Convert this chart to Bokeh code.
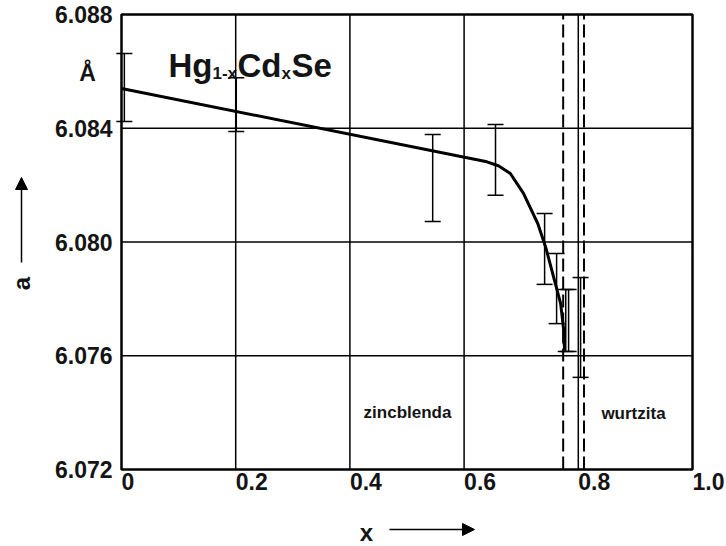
import math
from bokeh.plotting import figure
from bokeh.models import ColumnDataSource, Whisker, TeeHead, Arrow, NormalHead
from bokeh.core.properties import value
from bokeh.embed import file_html
from bokeh.resources import INLINE

# lattice parameter a (Å) of Hg1-xCdxSe versus composition x
curve_x = [0.0, 0.640, 0.660, 0.681, 0.704, 0.729, 0.743, 0.757, 0.769, 0.774, 0.776]
curve_a = [6.08540, 6.08282, 6.08268, 6.08241, 6.08171, 6.08065, 6.07981,
           6.07875, 6.07784, 6.07699, 6.07618]

# measured points with their error bars
err_x = [0.005, 0.201, 0.545, 0.655, 0.741, 0.762, 0.778, 0.783, 0.804]
err_hi = [6.08663, 6.08578, 6.08378, 6.08413, 6.08100, 6.07960, 6.07833, 6.07833, 6.07875]
err_lo = [6.08424, 6.08389, 6.08072, 6.08164, 6.07851, 6.07713, 6.07615, 6.07615, 6.07524]

# zincblende / wurtzite phase boundaries
boundaries = [0.7735, 0.810]

x_ticks = [0.0, 0.2, 0.4, 0.6, 0.8, 1.0]
x_tick_labels = ["0", "0.2", "0.4", "0.6", "0.8", "1.0"]
y_ticks = [6.072, 6.076, 6.080, 6.084, 6.088]
y_tick_labels = ["6.072", "6.076", "6.080", "6.084", "6.088"]

W, H = 726, 546
# plot box in page pixels
BOX_L, BOX_R, BOX_T, BOX_B = 121, 692, 14, 469
x0, x1 = x_ticks[0], x_ticks[-1]
y0, y1 = y_ticks[0], y_ticks[-1]
sx = (x1 - x0) / (BOX_R - BOX_L)
sy = (y1 - y0) / (BOX_B - BOX_T)


def at(px, py):
    """page pixel -> data coordinate"""
    return x0 + (px - BOX_L) * sx, y1 - (py - BOX_T) * sy


xr = (at(0, 0)[0], at(W, 0)[0])
yr = (at(0, H)[1], at(0, 0)[1])

BOLD = value("Liberation Sans")
INK = "#141414"

p = figure(width=W, height=H, x_range=xr, y_range=yr,
           x_axis_location=None, y_axis_location=None,
           output_backend="svg", toolbar_location=None, min_border=0)
p.background_fill_color = "white"
p.border_fill_color = "white"
p.outline_line_color = None
p.xgrid.visible = False
p.ygrid.visible = False

# grid
p.segment(x0=x_ticks[1:-1], y0=[y0] * 4, x1=x_ticks[1:-1], y1=[y1] * 4,
          line_color="black", line_width=1.5)
p.segment(x0=[x0] * 3, y0=y_ticks[1:-1], x1=[x1] * 3, y1=y_ticks[1:-1],
          line_color="black", line_width=1.5)

# phase boundaries
p.segment(x0=boundaries, y0=[y0] * 2, x1=boundaries, y1=[y1] * 2,
          line_color="black", line_width=2, line_dash="13 5")

# plot box
p.quad(left=[x0], right=[x1], bottom=[y0], top=[y1], fill_color=None,
       line_color="black", line_width=2.5)

# tick labels
p.text(x=[x0] * len(y_ticks), y=y_ticks, text=y_tick_labels, x_offset=-9,
       text_align="right", text_baseline="middle", text_font=BOLD,
       text_font_style="bold", text_font_size="23px", text_color=INK)
p.text(x=x_ticks, y=[y0] * len(x_ticks), text=x_tick_labels, y_offset=3,
       text_align="left", text_baseline="top", text_font=BOLD,
       text_font_style="bold", text_font_size="23px", text_color=INK)

# fitted curve
p.line(curve_x, curve_a, line_color="black", line_width=3)

# error bars
src = ColumnDataSource(data=dict(x=err_x, hi=err_hi, lo=err_lo))
p.add_layout(Whisker(source=src, base="x", upper="hi", lower="lo",
                     dimension="height", line_color="black", line_width=1.5,
                     upper_head=TeeHead(size=16, line_width=1.5, line_color="black"),
                     lower_head=TeeHead(size=16, line_width=1.5, line_color="black")))

# phase names
for (px, py), txt in [((407, 412), "zincblenda"), ((633, 413), "wurtzita")]:
    tx, ty = at(px, py)
    p.text(x=[tx], y=[ty], text=[txt], text_align="center", text_baseline="middle",
           text_font=BOLD, text_font_style="bold", text_font_size="17px",
           text_color=INK)

# unit
ux, uy = at(87, 72)
p.text(x=[ux], y=[uy], text=["Å"], text_align="center", text_baseline="middle",
       text_font=BOLD, text_font_style="bold", text_font_size="23px", text_color=INK)

# formula Hg1-xCdxSe
pieces = [(168, 65, "Hg", "33px"), (212, 73, "1-x", "17px"),
          (237, 65, "Cd", "33px"), (281, 73, "x", "17px"),
          (291, 65, "Se", "33px")]
for px, py, txt, fs in pieces:
    tx, ty = at(px, py)
    p.text(x=[tx], y=[ty], text=[txt], text_align="left",
           text_baseline="alphabetic", text_font=BOLD, text_font_style="bold",
           text_font_size=fs, text_color=INK)

# axis names with arrows
lx, ly = at(366, 532)
p.text(x=[lx], y=[ly], text=["x"], text_align="center", text_baseline="middle",
       text_font=BOLD, text_font_style="bold", text_font_size="24px", text_color=INK)
ax0, ay0 = at(389, 529)
ax1, ay1 = at(474, 529)
p.add_layout(Arrow(x_start=ax0, y_start=ay0, x_end=ax1, y_end=ay1,
                   line_width=1.5, line_color="black",
                   end=NormalHead(size=12, fill_color="black", line_color="black")))

lx, ly = at(21, 283)
p.text(x=[lx], y=[ly], text=["a"], angle=math.pi / 2, text_align="center",
       text_baseline="middle", text_font=BOLD, text_font_style="bold",
       text_font_size="24px", text_color=INK)
ax0, ay0 = at(21, 262)
ax1, ay1 = at(21, 177)
p.add_layout(Arrow(x_start=ax0, y_start=ay0, x_end=ax1, y_end=ay1,
                   line_width=1.5, line_color="black",
                   end=NormalHead(size=12, fill_color="black", line_color="black")))

open("out.html", "w").write(file_html(p, INLINE))
